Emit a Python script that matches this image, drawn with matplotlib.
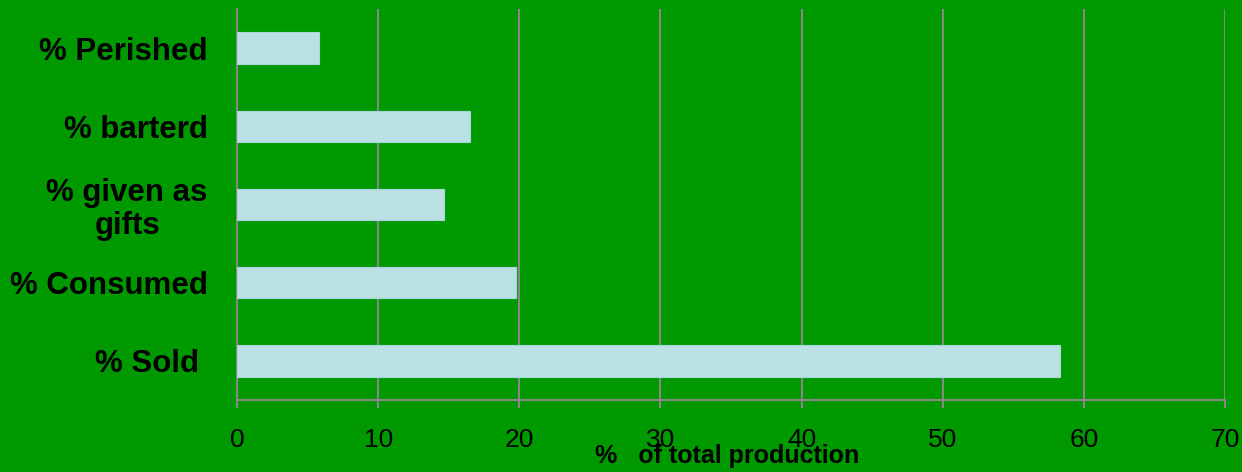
import matplotlib

matplotlib.use("Agg")

import matplotlib.pyplot as plt

# DATA (bottom to top)
categories = ["% Sold ", "% Consumed", "% given as\ngifts", "% barterd", "% Perished"]
values = [58.3, 19.8, 14.7, 16.5, 5.8]
x_ticks = [0, 10, 20, 30, 40, 50, 60, 70]

BG = "#009900"
BAR = "#BBE0E3"
GRID = "#888888"

plt.rcParams["font.family"] = ["Liberation Sans", "DejaVu Sans"]

fig = plt.figure(figsize=(12.42, 4.72), dpi=100)
fig.patch.set_facecolor(BG)

ax = fig.add_axes([237 / 1242, 72 / 472, 988 / 1242, 391 / 472])
ax.set_facecolor(BG)

ax.barh(range(len(categories)), values, height=0.4, color=BAR,
        edgecolor="#A9D6DA", linewidth=0.8, zorder=3)

ax.set_xlim(0, 70)
ax.set_ylim(-0.5, len(categories) - 0.5)
ax.set_xticks(x_ticks)
ax.set_yticks(range(len(categories)))
ax.set_yticklabels(categories, fontsize=22.5, fontweight="bold",
                   multialignment="center", linespacing=1.15)

ax.grid(axis="x", color=GRID, linewidth=1.5, zorder=1)
ax.set_axisbelow(True)

for side in ["top", "right"]:
    ax.spines[side].set_visible(False)
for side in ["left", "bottom"]:
    ax.spines[side].set_color(GRID)
    ax.spines[side].set_linewidth(1.5)

ax.tick_params(axis="y", length=0, pad=21)
ax.tick_params(axis="x", length=6, width=1.5, color=GRID, labelsize=19, pad=14.5)

fig.text(727 / 1242, 16 / 472, "%   of total production", ha="center", va="center",
         fontsize=18, fontweight="bold")

fig.savefig("out.png", dpi=100, facecolor=BG)
